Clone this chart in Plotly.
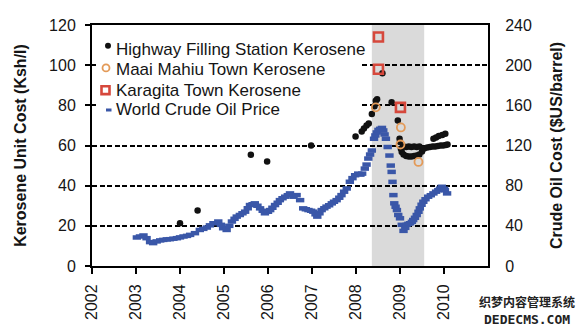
import plotly.graph_objects as go

# ---------------- data ----------------
hw_year = [2004.00, 2004.40, 2005.61, 2005.98, 2006.98, 2007.99, 2008.13, 2008.18, 2008.24, 2008.29,
           2008.36, 2008.42, 2008.45, 2008.48, 2008.60, 2008.81, 2008.95, 2008.99, 2009.00, 2009.02,
           2009.04,
           2009.08, 2009.14, 2009.20, 2009.26, 2009.32, 2009.38, 2009.44,
           2009.08, 2009.14, 2009.20, 2009.26, 2009.32, 2009.38, 2009.44, 2009.50,
           2009.55, 2009.62, 2009.68, 2009.74, 2009.80, 2009.86, 2009.92, 2009.98, 2010.04, 2010.08,
           2009.76, 2009.82, 2009.88, 2009.96, 2010.03]
hw_val = [21.3, 27.6, 55.4, 52.0, 60.0, 64.5, 67.0, 68.5, 70.0, 71.0,
          75.7, 79.5, 82.3, 83.0, 96.0, 81.5, 72.4, 63.4, 61.7, 58.4,
          56.8,
          59.5, 59.3, 59.5, 59.2, 59.5, 59.3, 59.5,
          55.5, 54.8, 54.5, 54.5, 54.8, 55.0, 55.5, 57.0,
          58.5, 59.0, 59.2, 59.5, 59.5, 59.8, 60.0, 60.0, 60.3, 60.5,
          63.4, 64.0, 64.7, 65.2, 65.8]

mm_year = [2008.45, 2009.02, 2009.01, 2009.42]
mm_val = [79.0, 69.0, 60.5, 51.8]

kg_year = [2008.51, 2008.51, 2009.01]
kg_val = [114.0, 98.0, 79.0]

oil_year = [2003.02, 2003.09, 2003.17, 2003.24, 2003.32, 2003.39, 2003.47, 2003.55, 2003.62, 2003.70,
            2003.77, 2003.85, 2003.93, 2004.00, 2004.08, 2004.16, 2004.23, 2004.34, 2004.45, 2004.53,
            2004.61, 2004.68, 2004.76, 2004.87, 2004.93, 2004.98, 2005.06, 2005.12, 2005.18, 2005.24,
            2005.29, 2005.36, 2005.42, 2005.48, 2005.54, 2005.59, 2005.65, 2005.70, 2005.76, 2005.82,
            2005.88, 2005.93, 2006.00, 2006.05, 2006.10, 2006.16, 2006.22, 2006.27, 2006.33, 2006.39,
            2006.45, 2006.50, 2006.58, 2006.65, 2006.73, 2006.80, 2006.86, 2006.92, 2006.98, 2007.03,
            2007.08, 2007.12, 2007.17, 2007.22, 2007.28, 2007.33, 2007.39, 2007.45, 2007.50, 2007.56,
            2007.62, 2007.67, 2007.73, 2007.79, 2007.86, 2007.92, 2007.98, 2008.05, 2008.10, 2008.14,
            2008.20, 2008.24, 2008.28, 2008.32, 2008.36, 2008.41, 2008.44, 2008.47, 2008.51, 2008.55,
            2008.59, 2008.62, 2008.65, 2008.68, 2008.72, 2008.76, 2008.79, 2008.81, 2008.83, 2008.85,
            2008.87, 2008.90, 2008.93, 2008.96, 2009.00, 2009.04, 2009.08, 2009.12, 2009.15, 2009.19,
            2009.23, 2009.27, 2009.30, 2009.34, 2009.38, 2009.42, 2009.45, 2009.49, 2009.53, 2009.58,
            2009.64, 2009.70, 2009.76, 2009.82, 2009.87, 2009.91, 2009.95, 2010.00, 2010.02, 2010.07]
oil_val = [28.4, 29.4, 30.4, 27.7, 23.8, 22.8, 24.5, 25.5, 26.0, 26.5,
           26.7, 27.2, 27.7, 28.5, 29.4, 30.0, 31.0, 32.7, 35.9, 37.0,
           38.3, 40.5, 42.6, 44.3, 41.0, 37.6, 35.9, 40.0, 44.3, 47.0,
           49.2, 50.8, 52.5, 54.1, 57.5, 60.7, 61.5, 62.4, 60.0, 57.4,
           55.0, 52.5, 54.0, 55.7, 58.0, 60.7, 63.0, 65.6, 67.5, 69.0,
           70.5, 72.3, 69.0, 70.6, 65.6, 57.4, 56.5, 55.7, 55.0, 54.1,
           51.5, 49.2, 52.5, 55.7, 57.5, 59.1, 60.5, 62.4, 64.0, 65.6,
           68.0, 70.6, 74.0, 77.2, 83.9, 87.5, 90.4, 92.0, 91.0, 92.0,
           97.0, 101.0, 107.0, 111.0, 115.0, 126.7, 130.0, 133.0, 135.5, 136.6,
           137.5, 135.0, 131.0, 126.7, 118.5, 110.0, 100.0, 93.7, 83.8, 70.6,
           62.4, 59.0, 55.7, 50.8, 47.5, 41.0, 35.0, 38.0, 41.0, 42.0,
           42.6, 44.0, 45.8, 48.0, 50.8, 54.0, 57.4, 61.0, 64.0, 66.5,
           69.0, 70.5, 72.3, 74.0, 75.5, 77.0, 78.9, 77.0, 75.5, 72.3]

x_ticks = [2002, 2003, 2004, 2005, 2006, 2007, 2008, 2009, 2010]
y_ticks = [0, 20, 40, 60, 80, 100, 120]
y2_ticks = [0, 40, 80, 120, 160, 200, 240]
shade = [2008.36, 2009.55]

FONT = "Liberation Sans, Arial, sans-serif"
INK = "#151515"
C_HW = "#111111"
C_MM = "#E39A58"
C_KG = "#D6483C"
C_OIL = "#3A57A8"

# plot-area geometry (pixels) used only to place the legend block
L, R, T, B = 92, 488, 25, 268


def px(p):
    return (p - L) / (R - L)


def py(p):
    return (B - p) / (B - T)


fig = go.Figure()
fig.add_trace(go.Scatter(
    x=hw_year, y=hw_val, mode="markers", name="Highway Filling Station Kerosene",
    marker=dict(symbol="circle", size=6.5, color=C_HW)))
fig.add_trace(go.Scatter(
    x=mm_year, y=mm_val, mode="markers", name="Maai Mahiu Town Kerosene",
    marker=dict(symbol="circle-open", size=8, color=C_MM, line=dict(width=1.8, color=C_MM))))
fig.add_trace(go.Scatter(
    x=kg_year, y=kg_val, mode="markers", name="Karagita Town Kerosene",
    marker=dict(symbol="square-open", size=9, color=C_KG, line=dict(width=2.6, color=C_KG))))
fig.add_trace(go.Scatter(
    x=oil_year, y=oil_val, mode="markers", name="World Crude Oil Price", yaxis="y2",
    marker=dict(symbol="line-ew", size=6, color=C_OIL, line=dict(width=4.5, color=C_OIL))))

fig.add_vrect(x0=shade[0], x1=shade[1], fillcolor="#DADADA", opacity=1, line_width=0, layer="below")

# ---------- legend block (white box over gridlines, symbols and labels) ----------
fig.add_shape(type="rect", xref="paper", yref="paper", x0=px(96), x1=px(362), y0=py(121), y1=py(33),
              fillcolor="white", line_width=0, layer="above")
rows = [49.3, 70.0, 90.7, 110.7]
names = ["Highway Filling Station Kerosene", "Maai Mahiu Town Kerosene",
         "Karagita Town Kerosene", "World Crude Oil Price"]
for r, n in zip(rows, names):
    fig.add_annotation(text=n, xref="paper", yref="paper", x=px(114), y=py(r), xanchor="left",
                       yanchor="middle", showarrow=False, font=dict(size=17, color=INK, family=FONT))
# symbols
fig.add_shape(type="circle", xref="paper", yref="paper", x0=px(105), x1=px(111), y0=py(49), y1=py(43),
              fillcolor=C_HW, line=dict(width=0), layer="above")
fig.add_shape(type="circle", xref="paper", yref="paper", x0=px(102.5), x1=px(109.5), y0=py(71.8), y1=py(64.8),
              fillcolor="white", line=dict(width=1.8, color=C_MM), layer="above")
fig.add_shape(type="rect", xref="paper", yref="paper", x0=px(101.5), x1=px(109.5), y0=py(94.7), y1=py(86.7),
              fillcolor="white", line=dict(width=2.6, color=C_KG), layer="above")
fig.add_shape(type="line", xref="paper", yref="paper", x0=px(106), x1=px(111.5), y0=py(110.7), y1=py(110.7),
              line=dict(width=3, color=C_OIL), layer="above")

fig.update_layout(
    width=586, height=332,
    margin=dict(l=L, r=586 - R, t=T, b=332 - B),
    paper_bgcolor="white", plot_bgcolor="white",
    font=dict(family=FONT, size=16, color=INK),
    showlegend=False,
    xaxis=dict(range=[2002, 2011], tickvals=x_ticks, ticktext=[str(v) for v in x_ticks],
               tickangle=-90, ticks="outside", ticklen=6, tickwidth=2, tickcolor="black",
               showline=True, linewidth=2, linecolor="black", mirror=True,
               showgrid=False, zeroline=False, ticklabelstandoff=4,
               tickfont=dict(size=16, color=INK)),
    yaxis=dict(range=[0, 120], tickvals=y_ticks, ticks="outside", ticklen=5, tickwidth=2,
               tickcolor="black", showline=True, linewidth=2, linecolor="black",
               showgrid=True, gridcolor="black", gridwidth=1.6, griddash="5px,2.5px",
               zeroline=False, ticklabelstandoff=6,
               title=dict(text="<b>Kerosene Unit Cost (Ksh/l)</b>", font=dict(size=16, color=INK), standoff=18),
               tickfont=dict(size=16, color=INK)),
    yaxis2=dict(range=[0, 240], tickvals=y2_ticks, overlaying="y", side="right",
                ticks="", showline=True, linewidth=2, linecolor="black",
                showgrid=False, zeroline=False, ticklabelstandoff=12,
                title=dict(text="<b>Crude Oil Cost ($US/barrel)</b>", font=dict(size=16, color=INK), standoff=20),
                tickfont=dict(size=16, color=INK)),
)

fig.add_annotation(text="<b>织梦内容管理系统</b>", xref="paper", yref="paper", x=px(527), y=py(304),
                   xanchor="center", yanchor="middle", showarrow=False,
                   font=dict(family="Noto Sans CJK SC", size=12, color="#222"))
fig.add_annotation(text="<b>DEDECMS.COM</b>", xref="paper", yref="paper", x=px(527), y=py(322),
                   xanchor="center", yanchor="middle", showarrow=False,
                   font=dict(family="DejaVu Sans Mono", size=13, color="#222"))

fig.write_html("out.html")
